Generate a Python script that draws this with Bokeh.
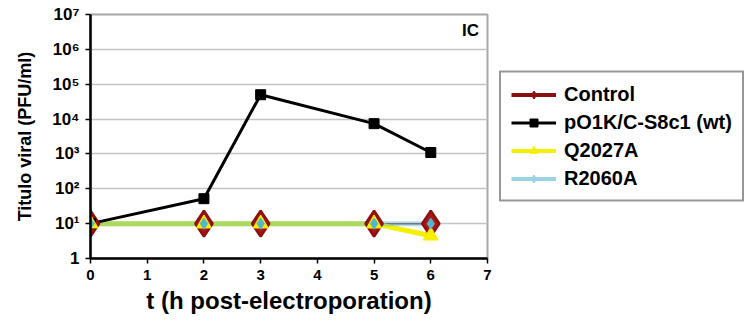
from bokeh.plotting import figure
from bokeh.models import Legend, LegendItem, FixedTicker, Label, Range1d, LogScale
from bokeh.embed import file_html
from bokeh.resources import INLINE

# Viral titre over time after electroporation
hours = [0, 2, 3, 5, 6]
control = [10, 10, 10, 10, 10]
wt = [10, 52, 50000, 7400, 1100]
q2027a = [10, 10, 10, 10, 4.5]
r2060a = [10, 10, 10, 10, 10]

x_ticks = [0, 1, 2, 3, 4, 5, 6, 7]
y_ticks = [1, 10, 100, 1000, 10000, 100000, 1000000, 10000000]
y_tick_labels = ["1", "10¹", "10²", "10³", "10⁴", "10⁵", "10⁶", "10⁷"]

FONT = "Liberation Sans"
DARK_RED = "#8b1010"
YELLOW = "#f5f000"
CYAN = "#4fb8cc"

p = figure(frame_width=397, frame_height=244, output_backend="svg", toolbar_location=None,
           y_axis_type="log", x_range=Range1d(0, 7), y_range=Range1d(1, 1e7),
           min_border_left=90, min_border_right=0, min_border_top=14,
           min_border_bottom=63)

# off-screen range used only by the legend swatches
p.extra_y_ranges = {"swatch": Range1d(1e20, 1e21)}
p.extra_y_scales = {"swatch": LogScale()}

p.outline_line_color = "#a8a8a8"
p.outline_line_width = 2
p.xgrid.grid_line_color = None
p.ygrid.grid_line_color = "#c4c4c4"
p.ygrid.grid_line_width = 1.5

for ax in (p.xaxis[0], p.yaxis[0]):
    ax.axis_line_color = "black"
    ax.axis_line_width = 2.5
    ax.major_tick_line_color = "black"
    ax.major_tick_line_width = 1.5
    ax.major_tick_out = 5
    ax.major_tick_in = 0
    ax.minor_tick_line_color = None
    ax.major_label_text_font = FONT
    ax.major_label_text_font_style = "bold"
    ax.major_label_text_color = "black"
    ax.axis_label_text_font = FONT
    ax.axis_label_text_font_style = "bold"
    ax.axis_label_text_color = "black"

p.xaxis.ticker = FixedTicker(ticks=x_ticks)
p.xaxis.major_label_text_font_size = "15px"
p.xaxis.major_label_standoff = 6
p.xaxis.axis_label = "t (h post-electroporation)"
p.xaxis.axis_label_text_font_size = "24px"
p.xaxis.axis_label_standoff = 4

p.yaxis.ticker = FixedTicker(ticks=y_ticks)
p.yaxis.major_label_overrides = {t: s for t, s in zip(y_ticks, y_tick_labels)}
p.yaxis.major_label_text_font_size = "17px"
p.yaxis.major_label_standoff = 6
p.yaxis.axis_label = "Titulo viral (PFU/ml)"
p.yaxis.axis_label_text_font_size = "18px"
p.yaxis.axis_label_standoff = 14

# series lines (the translucent cyan over yellow gives the green band)
p.line(hours, control, line_color="#b03030", line_width=1.5)
p.line(hours, q2027a, line_color=YELLOW, line_width=5)
p.line(hours, r2060a, line_color="#50bedc", line_width=5, line_alpha=0.45)
p.line(hours, wt, line_color="black", line_width=3)

# markers
p.scatter(hours, control, marker="diamond", size=26, fill_color="#b01414",
          line_color=DARK_RED, line_width=2.5)
p.scatter(hours, wt, marker="square", size=10, fill_color="black", line_color="black")
p.scatter(hours, q2027a, marker="triangle", size=15, fill_color=YELLOW, line_color=YELLOW)
p.scatter(hours, r2060a, marker="diamond", size=11, fill_color=CYAN, line_color=CYAN)

p.add_layout(Label(x=6.85, y=10**6.55, text="IC", text_font=FONT, text_font_style="bold",
                   text_font_size="17px", text_align="right", text_baseline="middle",
                   text_color="black"))

# legend swatches: same series, drawn on the off-screen range
def swatch(ys, color, width, marker, size):
    ln = p.line(hours, ys, line_color=color, line_width=width, y_range_name="swatch")
    mk = p.scatter(hours, ys, marker=marker, size=size, fill_color=color, line_color=color,
                   y_range_name="swatch")
    return [ln, mk]

legend = Legend(items=[
    LegendItem(label="Control", renderers=swatch(control, DARK_RED, 4, "diamond", 12)),
    LegendItem(label="pO1K/C-S8c1 (wt)", renderers=swatch(wt, "black", 3, "square", 8)),
    LegendItem(label="Q2027A", renderers=swatch(q2027a, YELLOW, 4, "triangle", 12)),
    LegendItem(label="R2060A", renderers=swatch(r2060a, "#9ad4e4", 4, "diamond", 8)),
], location="left")
legend.border_line_color = "#303030"
legend.border_line_width = 2
legend.label_text_font = FONT
legend.label_text_font_style = "bold"
legend.label_text_font_size = "20px"
legend.label_text_color = "black"
legend.glyph_width = 45
legend.glyph_height = 20
legend.label_height = 20
legend.spacing = 5
legend.padding = 10
legend.margin = 12
legend.label_standoff = 8
legend.background_fill_alpha = 1
p.add_layout(legend, "right")

open("out.html", "w").write(file_html(p, INLINE))
